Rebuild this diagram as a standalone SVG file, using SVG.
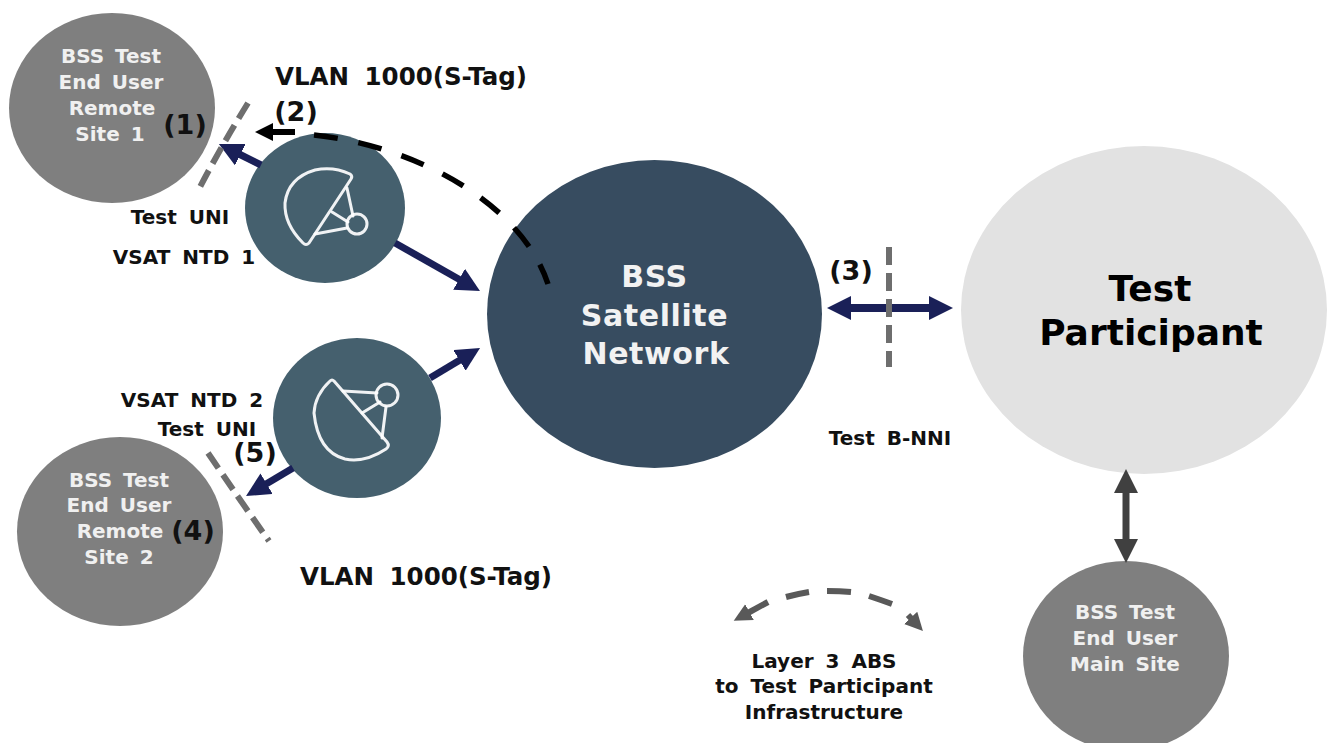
<svg xmlns="http://www.w3.org/2000/svg" width="1327" height="743" viewBox="0 0 1327 743">
<style>
text{font-family:"DejaVu Sans",Verdana,sans-serif;font-weight:700;text-anchor:middle;fill:#111}
.w{fill:#f0f0f0;font-size:20px;word-spacing:4px}
.k{font-size:20px;word-spacing:5px}
.v{font-size:24.5px;word-spacing:7px}
.n{font-size:27px}
.b{font-size:30px;fill:#f2f2f2;letter-spacing:.6px}
.p{font-size:36px;fill:#000}
.icon{fill:none;stroke:#fff;stroke-opacity:.92;stroke-width:3;stroke-linejoin:round;stroke-linecap:round}
.navy{stroke:#1a2058;stroke-width:7;fill:none}
.bound{stroke:#6e6e6e;stroke-width:6;stroke-dasharray:18 8;fill:none}
.gr{stroke:#595959;stroke-width:6;fill:none}
</style>
<defs>
<marker id="navy" markerUnits="userSpaceOnUse" markerWidth="30" markerHeight="30" refX="6" refY="12" orient="auto-start-reverse"><path d="M0 0L24 12L0 24z" fill="#1a2058"/></marker>
<marker id="dark" markerUnits="userSpaceOnUse" markerWidth="30" markerHeight="30" refX="6" refY="12" orient="auto-start-reverse"><path d="M0 0L24 12L0 24z" fill="#404040"/></marker>
<marker id="black" markerUnits="userSpaceOnUse" markerWidth="20" markerHeight="20" refX="4" refY="9" orient="auto"><path d="M0 0L18 9L0 18z" fill="#000"/></marker>
<marker id="gray" markerUnits="userSpaceOnUse" markerWidth="20" markerHeight="20" refX="4" refY="9" orient="auto"><path d="M0 0L18 9L0 18z" fill="#595959"/></marker>
</defs>
<rect width="1327" height="743" fill="#fff"/>
<g id="site1"><ellipse cx="112" cy="108" rx="103" ry="95" fill="#7f7f7f"/>
<text class="w" x="111" y="63">BSS Test</text><text class="w" x="111" y="89">End User</text><text class="w" x="112" y="115">Remote</text><text class="w" x="110" y="141">Site 1</text></g>
<g id="site2"><ellipse cx="120" cy="531.5" rx="103" ry="94.5" fill="#7f7f7f"/>
<text class="w" x="119" y="487">BSS Test</text><text class="w" x="119" y="512">End User</text><text class="w" x="120" y="538">Remote</text><text class="w" x="119" y="564">Site 2</text></g>
<g id="bss"><ellipse cx="654.500" cy="314" rx="167.500" ry="154" fill="#374c60"/>
<text class="b" x="654.500" y="287">BSS</text><text class="b" x="654.500" y="326">Satellite</text><text class="b" x="656" y="364">Network</text></g>
<g id="participant"><ellipse cx="1144" cy="310" rx="183" ry="164" fill="#e2e2e2"/>
<text class="p" x="1150" y="301">Test</text><text class="p" x="1151" y="345">Participant</text></g>
<g id="mainsite"><ellipse cx="1126" cy="656" rx="103" ry="95" fill="#7f7f7f"/>
<text class="w" x="1125" y="619">BSS Test</text><text class="w" x="1125" y="645">End User</text><text class="w" x="1125" y="671">Main Site</text></g>
<g id="ntd1"><ellipse cx="325" cy="208" rx="80" ry="75" fill="#45606e"/>
<g class="icon"><path d="M350 174Q353 176 351 179L309 243Q306 246 303 243Q284 224 285 203Q288 178 315 170Q333 166 350 174Z"/><path d="M347 188L353 216M332 212L348 222M315 234L347 228"/><circle cx="357" cy="224" r="10"/></g></g>
<g id="ntd2"><ellipse cx="357" cy="418" rx="84" ry="80" fill="#45606e"/>
<g class="icon"><path d="M330 381Q332 379 334 381L387 442Q390 446 386 449Q365 463 345 459Q318 452 314 413Q315 395 330 381Z"/><path d="M343 391L377 393M362 413L380 402M382 438L386 407"/><circle cx="387" cy="395" r="11"/></g></g>
<g id="connectors">
<path class="navy" d="M261 165L235 152" marker-end="url(#navy)"/>
<path class="navy" d="M395 243L464.300 282.200" marker-end="url(#navy)"/>
<path class="navy" d="M430 378L464.600 357.300" marker-end="url(#navy)"/>
<path class="navy" d="M293 468L261.500 486.800" marker-end="url(#navy)"/>
<path class="navy" style="stroke-width:8" d="M845 308H935" marker-start="url(#navy)" marker-end="url(#navy)"/>
<path d="M1126 487V545" stroke="#404040" stroke-width="7" marker-start="url(#dark)" marker-end="url(#dark)"/>
<path class="bound" d="M248 103Q222 145 200 187"/>
<path class="bound" d="M208 453Q240 500 269 541"/>
<path class="bound" d="M889 247V367"/>
<path d="M295 132H269" stroke="#000" stroke-width="6" marker-end="url(#black)"/>
<path d="M314 135C410 145 520 200 548 284" fill="none" stroke="#000" stroke-width="5.500" stroke-dasharray="24 21"/>
<path class="gr" d="M786 597Q797 594 809 592M827 591Q840 591 851 592M869 596Q881 600 892 604"/>
<path class="gr" d="M768 602L746 614" marker-end="url(#gray)"/>
<path class="gr" d="M908 615L913.400 620.800" marker-end="url(#gray)"/>
</g>
<g id="labels">
<text class="v" x="401" y="85">VLAN 1000(S-Tag)</text>
<text class="n" x="296" y="121">(2)</text>
<text class="n" x="185" y="134">(1)</text>
<text class="k" x="180" y="224">Test UNI</text>
<text class="k" x="184" y="264">VSAT NTD 1</text>
<text class="k" x="192" y="407">VSAT NTD 2</text>
<text class="k" x="207" y="436">Test UNI</text>
<text class="n" x="255" y="462">(5)</text>
<text class="n" x="193" y="540">(4)</text>
<text class="v" x="426" y="585">VLAN 1000(S-Tag)</text>
<text class="n" x="851" y="280">(3)</text>
<text class="k" x="890" y="445">Test B-NNI</text>
<text class="k" x="824" y="668">Layer 3 ABS</text><text class="k" x="824" y="693">to Test Participant</text><text class="k" x="824" y="719">Infrastructure</text>
</g>
</svg>
